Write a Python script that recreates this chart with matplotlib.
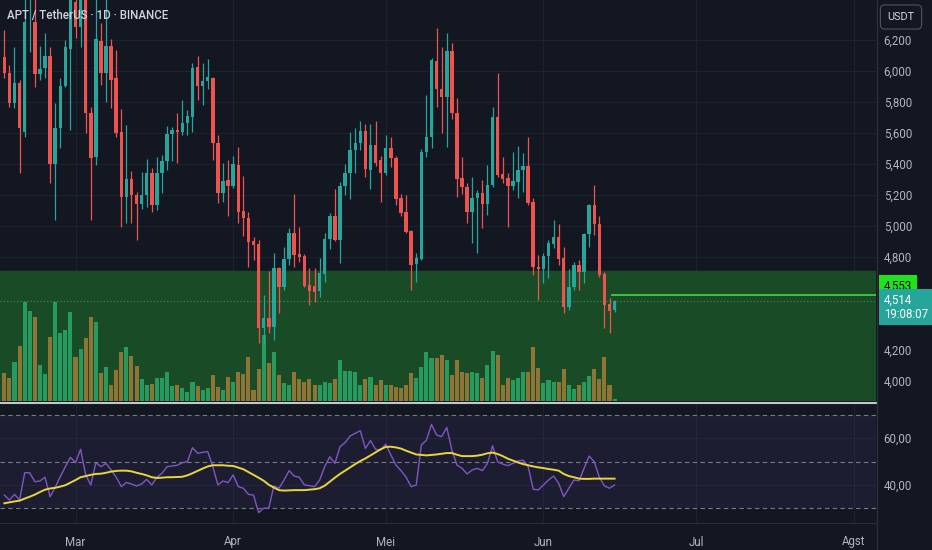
import numpy as np
import pandas as pd
import matplotlib
matplotlib.use('Agg')
import matplotlib.pyplot as plt
import matplotlib.dates as mdates

plt.rcParams['font.family'] = ['Roboto', 'DejaVu Sans']

BG = '#131722'
UP = '#26a69a'
DOWN = '#ef5350'
TXT = '#b2b5be'

# daily candles, APT/USDT (Feb 15 .. Jun 15)
dates = pd.date_range('2025-02-15', periods=121, freq='D')

opens = [6.090, 5.987, 5.794, 5.923, 5.606, 6.470, 6.316, 5.981, 6.019, 6.097,
         5.400, 5.632, 5.903, 6.142, 6.445, 6.284, 6.520, 5.729, 5.445, 6.194,
         5.987, 6.161, 5.955, 5.606, 5.187, 5.303, 5.200, 5.142, 5.200, 5.342,
         5.135, 5.342, 5.419, 5.594, 5.619, 5.606, 5.665, 5.703, 6.026, 5.903,
         5.935, 5.955, 5.535, 5.213, 5.297, 5.258, 5.394, 5.097, 5.052, 4.903,
         4.884, 4.342, 4.406, 4.348, 4.729, 4.606, 4.787, 4.955, 4.819, 4.806,
         4.619, 4.613, 4.581, 4.690, 4.916, 5.065, 4.910, 5.258, 5.342, 5.490,
         5.535, 5.613, 5.361, 5.523, 5.426, 5.342, 5.503, 5.439, 5.181, 5.090,
         4.968, 4.755, 4.787, 5.477, 5.574, 6.065, 5.884, 5.832, 6.129, 5.729,
         5.310, 5.252, 5.090, 5.181, 5.213, 5.142, 5.265, 5.703, 5.335, 5.310,
         5.258, 5.284, 5.361, 5.387, 5.155, 4.735, 4.723, 4.806, 4.884, 4.929,
         4.794, 4.477, 4.606, 4.748, 4.703, 4.948, 5.135, 5.013, 4.690, 4.497,
         4.458]
highs = [6.265, 6.039, 6.155, 5.942, 6.470, 6.800, 6.500, 6.161, 6.245, 6.155,
         5.794, 5.955, 6.200, 6.520, 6.500, 6.600, 6.580, 5.768, 6.500, 6.310,
         6.470, 6.206, 6.135, 5.755, 5.652, 5.355, 5.219, 5.348, 5.432, 5.374,
         5.445, 5.458, 5.645, 5.639, 5.729, 5.813, 5.748, 6.052, 6.097, 6.052,
         6.077, 5.961, 5.587, 5.406, 5.426, 5.452, 5.510, 5.323, 5.090, 4.929,
         4.910, 4.555, 4.710, 4.826, 4.735, 4.865, 4.987, 5.206, 4.994, 4.819,
         4.729, 4.729, 4.794, 4.955, 5.084, 5.239, 5.284, 5.400, 5.606, 5.632,
         5.677, 5.658, 5.658, 5.677, 5.452, 5.587, 5.574, 5.452, 5.206, 5.200,
         4.974, 4.826, 5.497, 5.845, 6.084, 6.277, 6.155, 6.245, 6.181, 5.826,
         5.445, 5.277, 5.316, 5.232, 5.297, 5.394, 5.768, 5.987, 5.445, 5.342,
         5.477, 5.516, 5.471, 5.574, 5.181, 4.813, 4.826, 4.910, 5.039, 5.013,
         4.865, 4.723, 4.768, 4.781, 4.955, 5.142, 5.264, 5.065, 4.703, 4.535,
         4.523]
lows = [5.955, 5.768, 5.761, 5.342, 5.574, 6.123, 5.897, 5.942, 5.955, 5.277,
        5.039, 5.503, 5.897, 5.619, 6.213, 6.155, 5.600, 5.039, 5.394, 5.910,
        5.800, 5.761, 5.574, 4.994, 5.019, 5.019, 4.910, 5.110, 5.123, 5.090,
        5.103, 5.213, 5.361, 5.419, 5.406, 5.587, 5.587, 5.606, 5.813, 5.781,
        5.884, 5.426, 5.148, 5.155, 5.065, 5.245, 5.019, 4.935, 4.735, 4.781,
        4.245, 4.245, 4.310, 4.265, 4.439, 4.587, 4.748, 4.735, 4.768, 4.606,
        4.490, 4.510, 4.542, 4.639, 4.852, 4.903, 4.761, 5.200, 5.174, 5.342,
        5.490, 5.316, 5.239, 5.387, 5.155, 5.329, 5.381, 5.135, 5.065, 4.955,
        4.587, 4.639, 4.781, 5.445, 5.503, 5.768, 5.600, 5.510, 5.690, 5.187,
        5.206, 5.019, 4.890, 4.826, 4.987, 5.071, 5.252, 5.316, 5.277, 4.994,
        5.232, 5.181, 5.219, 5.135, 4.684, 4.523, 4.632, 4.665, 4.858, 4.748,
        4.439, 4.458, 4.587, 4.587, 4.632, 4.865, 4.942, 4.671, 4.342, 4.310,
        4.445]
closes = [5.987, 5.794, 5.923, 5.632, 6.316, 6.660, 5.981, 6.013, 6.097, 5.400,
          5.632, 5.903, 6.155, 6.470, 6.284, 6.520, 5.729, 5.439, 6.206, 5.987,
          6.161, 5.942, 5.600, 5.187, 5.303, 5.200, 5.142, 5.200, 5.342, 5.135,
          5.342, 5.419, 5.594, 5.619, 5.606, 5.665, 5.710, 6.019, 5.903, 5.935,
          5.961, 5.535, 5.213, 5.290, 5.258, 5.400, 5.090, 5.052, 4.897, 4.877,
          4.342, 4.406, 4.348, 4.729, 4.606, 4.787, 4.955, 4.813, 4.800, 4.613,
          4.581, 4.574, 4.697, 4.916, 5.065, 4.910, 5.258, 5.342, 5.490, 5.535,
          5.613, 5.368, 5.523, 5.406, 5.342, 5.503, 5.439, 5.174, 5.084, 4.961,
          4.748, 4.794, 5.477, 5.574, 6.071, 5.884, 5.832, 6.129, 5.729, 5.303,
          5.252, 5.090, 5.181, 5.213, 5.142, 5.265, 5.703, 5.329, 5.303, 5.258,
          5.290, 5.361, 5.387, 5.148, 4.735, 4.723, 4.806, 4.890, 4.929, 4.787,
          4.477, 4.606, 4.748, 4.703, 4.948, 5.135, 5.013, 4.684, 4.490, 4.452,
          4.514]
volume = [28, 23, 39, 55, 99, 90, 84, 36, 27, 64,
          99, 68, 71, 89, 44, 52, 63, 84, 79, 28,
          34, 16, 31, 49, 54, 45, 35, 22, 16, 17,
          23, 23, 29, 15, 16, 13, 9, 19, 15, 11,
          13, 26, 14, 11, 24, 19, 29, 27, 44, 11,
          32, 66, 38, 49, 26, 18, 16, 29, 22, 19,
          22, 16, 16, 19, 18, 22, 41, 30, 30, 29,
          16, 22, 24, 16, 21, 16, 16, 14, 13, 16,
          28, 23, 34, 49, 43, 43, 46, 41, 26, 41,
          29, 28, 29, 28, 23, 36, 50, 46, 16, 23,
          21, 23, 29, 29, 54, 33, 18, 21, 19, 19,
          32, 16, 12, 16, 19, 25, 32, 22, 44, 16,
          2]
rsi = [35.7, 33.6, 36.0, 33.6, 45.2, 45.2, 41.4, 41.7, 43.3, 35.0,
       39.0, 43.5, 47.8, 51.8, 49.5, 55.2, 44.3, 40.0, 49.5, 47.8,
       49.2, 46.4, 43.3, 39.3, 41.1, 40.4, 39.6, 40.4, 42.4, 40.0,
       43.3, 45.0, 47.8, 48.1, 48.4, 49.5, 49.9, 55.9, 53.5, 53.9,
       54.2, 47.8, 40.0, 41.7, 41.0, 44.3, 39.3, 38.6, 36.0, 35.7,
       28.2, 30.1, 30.1, 39.6, 38.6, 42.1, 46.1, 43.8, 43.3, 40.0,
       39.7, 39.3, 42.1, 47.8, 52.0, 49.2, 56.3, 58.0, 60.9, 62.0,
       63.1, 55.6, 58.9, 55.2, 54.9, 57.4, 52.8, 48.5, 46.1, 43.3,
       39.3, 40.0, 57.0, 59.1, 65.8, 61.3, 60.6, 64.5, 54.9, 48.5,
       47.1, 44.7, 46.4, 47.1, 46.1, 49.2, 56.7, 49.9, 48.9, 48.2,
       49.2, 50.2, 50.6, 47.8, 38.2, 37.9, 40.0, 42.1, 43.8, 40.7,
       35.0, 38.6, 42.1, 41.8, 47.1, 52.3, 49.9, 43.3, 39.6, 38.6,
       40.0]
rsi_ma = [32.2, 32.6, 33.0, 33.3, 34.2, 35.0, 35.9, 37.0, 38.0, 38.5,
          38.8, 39.3, 39.9, 41.0, 42.1, 43.3, 43.8, 44.3, 44.7, 44.8,
          45.2, 45.7, 46.0, 46.1, 46.1, 45.8, 45.2, 44.7, 44.1, 43.3,
          43.0, 43.1, 43.3, 43.3, 43.4, 43.5, 44.1, 45.0, 46.0, 47.0,
          47.9, 48.4, 48.4, 48.4, 48.2, 48.1, 47.4, 46.7, 45.5, 44.3,
          43.1, 41.8, 40.1, 38.9, 37.8, 37.6, 37.7, 37.8, 37.8, 37.8,
          38.0, 38.2, 38.6, 39.7, 41.4, 43.1, 44.7, 46.1, 47.5, 48.9,
          50.2, 51.3, 52.6, 53.9, 55.2, 56.2, 56.3, 56.0, 55.5, 54.6,
          53.8, 53.0, 52.8, 52.6, 52.8, 53.0, 53.3, 53.6, 53.6, 52.9,
          52.3, 52.3, 52.3, 52.5, 52.9, 53.5, 53.8, 53.2, 52.3, 51.2,
          50.4, 49.6, 48.9, 48.4, 47.9, 47.5, 47.2, 46.8, 46.5, 46.1,
          44.7, 43.8, 43.3, 42.7, 42.6, 42.6, 42.7, 42.7, 42.7, 42.7,
          42.7]

zone_top = 4.71
target_price = 4.553
last_price = 4.514
countdown = '19:08:07'
price_ticks = [4.0, 4.2, 4.8, 5.0, 5.2, 5.4, 5.6, 5.8, 6.0, 6.2]
month_ticks = ['2025-03-01', '2025-04-01', '2025-05-01', '2025-06-01', '2025-07-01', '2025-08-01']
month_labels = ['Mar', 'Apr', 'Mei', 'Jun', 'Jul', 'Agst']

o = np.array(opens); h = np.array(highs); l = np.array(lows); c = np.array(closes)
x = mdates.date2num(dates)
up = c >= o
cols = np.where(up, UP, DOWN)
vol_cols = np.where(up, '#279a5f', '#8e7536')
mt = mdates.date2num(pd.to_datetime(month_ticks))

W, H = 932, 550
def rect(x0, y0, x1, y1):
    return [x0 / W, 1 - y1 / H, (x1 - x0) / W, (y1 - y0) / H]

fig = plt.figure(figsize=(9.32, 5.5), dpi=100)
fig.patch.set_facecolor(BG)

xlim = (x[0] - 0.85, x[0] + 171.4)
ylim = (3.871, 6.458)

# background layer: grid, zone, price scale
ax_bg = fig.add_axes(rect(0, 0, 876, 401))
ax_bg.set_facecolor(BG)
ax_bg.set_axisbelow(True)
ax_bg.set_xlim(*xlim)
ax_bg.set_ylim(*ylim)
ax_bg.set_yticks(price_ticks)
ax_bg.set_yticklabels([f'{v:.3f}'.replace('.', ',') for v in price_ticks])
ax_bg.yaxis.tick_right()
ax_bg.set_xticks(mt)
ax_bg.set_xticklabels([])
ax_bg.tick_params(length=0, colors=TXT, labelsize=8.3, pad=5.5)
ax_bg.grid(True, color='#1e222d', lw=0.8)
ax_bg.axhspan(ylim[0], zone_top, color='#194b27', zorder=1)
for s in ax_bg.spines.values():
    s.set_visible(False)

# volume layer
vax = fig.add_axes(rect(0, 0, 876, 401), sharex=ax_bg)
vax.patch.set_visible(False)
vax.bar(x, volume, width=0.8, color=vol_cols, linewidth=0)
vax.set_ylim(0, 401)
vax.axis('off')

# candles on top
ax = fig.add_axes(rect(0, 0, 876, 401), sharex=ax_bg)
ax.patch.set_visible(False)
ax.set_ylim(*ylim)
ax.vlines(x, l, h, colors=cols, lw=0.9)
ax.bar(x, np.maximum(np.abs(c - o), 0.006), bottom=np.minimum(o, c), width=0.68,
       color=cols, linewidth=0)
ax.axhline(last_price, color='#4caf7d', lw=0.8, ls=(0, (1, 2)), alpha=0.7)
ax.hlines(target_price, x[-2] + 0.3, xlim[1], color='#43d64a', lw=1.2)
ax.axis('off')

ax.annotate('4,553', xy=(1.0, target_price), xycoords=('axes fraction', 'data'),
            xytext=(5.5, 6.5), textcoords='offset points', va='center', ha='left',
            fontsize=8.3, color='black', annotation_clip=False,
            bbox=dict(boxstyle='square,pad=0.4', fc='#1fe31f', ec='none'))
ax.annotate(f'{last_price:.3f}'.replace('.', ',') + '\n' + countdown,
            xy=(1.0, last_price), xycoords=('axes fraction', 'data'),
            xytext=(5.5, -4.3), textcoords='offset points', va='center', ha='left',
            fontsize=8.3, color='white', linespacing=1.1, annotation_clip=False,
            bbox=dict(boxstyle='square,pad=0.4', fc=UP, ec='none'))

# RSI pane
rax = fig.add_axes(rect(0, 404, 876, 523), sharex=ax_bg)
rax.set_facecolor(BG)
rax.set_axisbelow(True)
rax.set_ylim(23.8, 74.5)
rax.axhspan(30, 70, color='#7e57c2', alpha=0.1, lw=0)
for lvl in (70, 50, 30):
    rax.axhline(lvl, color='#787b86', lw=0.8, ls=(0, (4, 3)))
rax.set_yticks([40, 60])
rax.set_yticklabels(['40,00', '60,00'])
rax.yaxis.tick_right()
rax.set_xticks(mt)
rax.set_xticklabels(month_labels)
rax.tick_params(length=0, colors=TXT, labelsize=8.3)
rax.tick_params(axis='y', pad=5.5)
rax.tick_params(axis='x', pad=9)
rax.grid(True, color='#1e222d', lw=0.8)
rax.plot(x, rsi, color='#7e57c2', lw=1.0)
rax.plot(x, rsi_ma, color='#e8d63a', lw=1.4)
for s in rax.spines.values():
    s.set_visible(False)
rax.spines['bottom'].set_visible(True)
rax.spines['bottom'].set_color('#2a2e39')
rax.set_xlim(*xlim)

# pane separators
fig.add_artist(plt.Line2D([0, 876 / W], [1 - 402.5 / H] * 2, color='#c3c6ce', lw=1.5))
fig.add_artist(plt.Line2D([876.5 / W] * 2, [0, 1], color='#2a2e39', lw=1))

fig.text(7 / W, 1 - 16 / H, 'APT / TetherUS · 1D · BINANCE', color='#d1d4dc',
         fontsize=8.3, fontweight='medium', va='center', ha='left')
fig.text(901 / W, 1 - 17 / H, 'USDT', color='#d1d4dc', fontsize=7.8, va='center', ha='center',
         bbox=dict(boxstyle='round,pad=0.65,rounding_size=0.4', fc=BG, ec='#50535e', lw=0.8))

fig.savefig('out.png', dpi=100, facecolor=BG)
